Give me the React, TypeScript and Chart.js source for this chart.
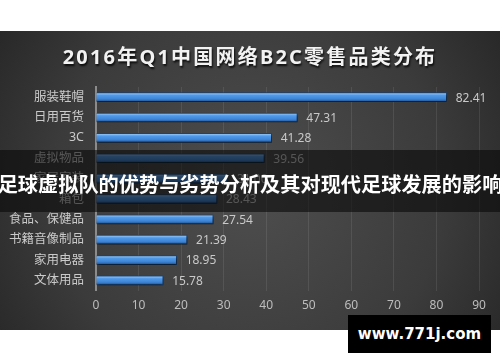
import React, { useEffect, useRef } from "react";
import { Chart, registerables } from "chart.js";

Chart.register(...registerables);

const categories = ["服装鞋帽", "日用百货", "3C", "虚拟物品", "家居家装", "箱包", "食品、保健品", "书籍音像制品", "家用电器", "文体用品"];
const values = [82.41, 47.31, 41.28, 39.56, 31.0, 28.43, 27.54, 21.39, 18.95, 15.78];
const valueLabels = ["82.41", "47.31", "41.28", "39.56", "31.00", "28.43", "27.54", "21.39", "18.95", "15.78"];
const xTicks = [0, 10, 20, 30, 40, 50, 60, 70, 80, 90];

const titleText = "2016年Q1中国网络B2C零售品类分布";
const bannerText = "足球虚拟队的优势与劣势分析及其对现代足球发展的影响";
const watermarkText = "www.771j.com";

const FONT = "'Noto Sans', 'Noto Sans CJK SC', sans-serif";

const bgPlugin = {
  id: "bgPlugin",
  beforeDraw(chart: any) {
    const { ctx, width } = chart;
    ctx.save();
    const g = ctx.createRadialGradient(250, 190, 10, 250, 190, 320);
    g.addColorStop(0, "#4d4d4d");
    g.addColorStop(0.6, "#3b3b3b");
    g.addColorStop(1, "#242424");
    ctx.fillStyle = g;
    ctx.fillRect(0, 31, width, 299);
    ctx.restore();
  },
  beforeDatasetsDraw(chart: any) {
    const ctx = chart.ctx;
    ctx.save();
    ctx.shadowColor = "rgba(0,0,0,0.65)";
    ctx.shadowOffsetX = 1;
    ctx.shadowOffsetY = 2;
    ctx.shadowBlur = 3;
  },
  afterDatasetsDraw(chart: any) {
    const ctx = chart.ctx;
    ctx.restore();
    const meta = chart.getDatasetMeta(0);
    ctx.save();
    ctx.fillStyle = "#c9c9c9";
    ctx.font = "12px " + FONT;
    ctx.textAlign = "left";
    ctx.textBaseline = "middle";
    meta.data.forEach((bar: any, i: number) => {
      ctx.fillText(valueLabels[i], bar.x + 9, bar.y + 1);
    });
    ctx.restore();
  },
};

export default function App() {
  const ref = useRef<HTMLCanvasElement>(null);
  useEffect(() => {
    document.body.style.margin = "0";
    const chart = new Chart(ref.current as HTMLCanvasElement, {
      type: "bar",
      data: {
        labels: categories,
        datasets: [
          {
            data: values,
            barThickness: 9,
            borderWidth: 1,
            borderColor: "#1c4677",
            backgroundColor: (c: any) => {
              const ch = c.chart;
              if (!ch.chartArea || !ch.scales.y) return "#3d85d8";
              const y = ch.scales.y.getPixelForValue(c.dataIndex);
              const g = ch.ctx.createLinearGradient(0, y - 4.5, 0, y + 4.5);
              g.addColorStop(0, "#a2d0fc");
              g.addColorStop(0.3, "#519ae8");
              g.addColorStop(0.7, "#3d84d6");
              g.addColorStop(1, "#1f4f8c");
              return g;
            },
          },
        ],
      },
      options: {
        indexAxis: "y",
        animation: false,
        responsive: false,
        maintainAspectRatio: false,
        layout: { padding: { top: 87, bottom: 41, left: 0, right: 21 } },
        plugins: { legend: { display: false }, tooltip: { enabled: false }, title: { display: false } },
        scales: {
          x: {
            min: 0,
            max: 90,
            afterBuildTicks: (s: any) => {
              s.ticks = xTicks.map((v) => ({ value: v }));
            },
            grid: { color: "rgba(255,255,255,0.09)", drawTicks: false },
            border: { display: false },
            ticks: { color: "#bdbdbd", font: { size: 12, family: FONT }, padding: 8 },
          },
          y: {
            afterFit: (s: any) => {
              s.width = 96;
            },
            grid: { display: false, drawTicks: false },
            border: { color: "#8c8c8c", width: 2 },
            ticks: { color: "#cacaca", font: { size: 12.5, family: FONT }, padding: 12 },
          },
        },
      },
      plugins: [bgPlugin],
    } as any);
    return () => chart.destroy();
  }, []);

  return (
    <div style={{ position: "fixed", left: 0, top: 0, width: 500, height: 362, background: "#fff", overflow: "hidden" }}>
      <canvas ref={ref} width={500} height={362} style={{ position: "absolute", left: 0, top: 0, width: 500, height: 362 }} />
      <div
        style={{
          position: "absolute",
          left: 0,
          top: 43,
          width: 500,
          textAlign: "center",
          fontFamily: FONT,
          fontWeight: 700,
          fontSize: 20,
          letterSpacing: 2.2,
          color: "#f2f2f2",
          textShadow: "1px 2px 2px rgba(0,0,0,0.8)",
          lineHeight: "28px",
          whiteSpace: "nowrap",
        }}
      >
        {titleText}
      </div>
      <div
        style={{
          position: "absolute",
          left: 0,
          top: 150,
          width: 500,
          height: 62,
          background: "rgba(8,8,8,0.6)",
        }}
      />
      <div
        style={{
          position: "absolute",
          left: -10,
          top: 170,
          width: 520,
          textAlign: "center",
          fontFamily: "'Noto Sans CJK SC', sans-serif",
          fontWeight: 700,
          fontSize: 20.2,
          lineHeight: "28px",
          color: "#ffffff",
          whiteSpace: "nowrap",
        }}
      >
        {bannerText}
      </div>
      <div
        style={{
          position: "absolute",
          left: 348,
          top: 315,
          width: 143,
          height: 38,
          background: "#000",
          color: "#fff",
          fontFamily: "'DejaVu Sans', sans-serif",
          fontWeight: 700,
          fontSize: 15,
          lineHeight: "38px",
          textAlign: "center",
          whiteSpace: "nowrap",
        }}
      >
        {watermarkText}
      </div>
    </div>
  );
}
